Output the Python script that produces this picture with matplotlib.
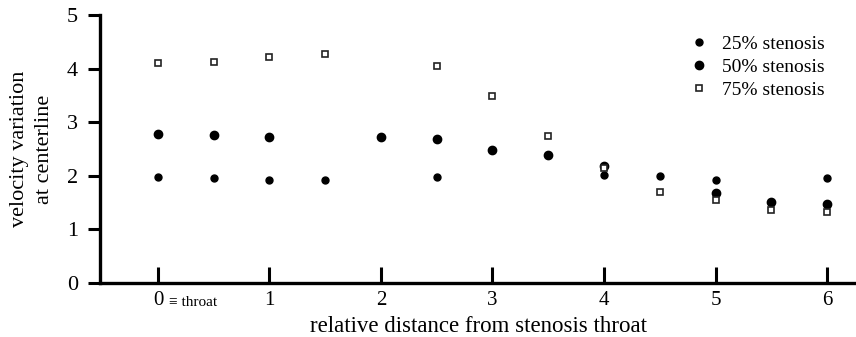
import matplotlib
matplotlib.use("Agg")
import matplotlib.pyplot as plt

# ---------------------------------------------------------------------------
# Data
# ---------------------------------------------------------------------------
x25 = [0, 0.5, 1, 1.5, 2.5, 4, 4.5, 5, 6]
y25 = [1.97, 1.96, 1.93, 1.92, 1.98, 2.01, 2.00, 1.93, 1.95]

x50 = [0, 0.5, 1, 2, 2.5, 3, 3.5, 4, 5, 5.5, 6]
y50 = [2.78, 2.76, 2.72, 2.73, 2.68, 2.48, 2.38, 2.18, 1.68, 1.52, 1.47]

x75 = [0, 0.5, 1, 1.5, 2.5, 3, 3.5, 4, 4.5, 5, 5.5, 6]
y75 = [4.10, 4.13, 4.21, 4.27, 4.05, 3.48, 2.75, 2.15, 1.70, 1.55, 1.36, 1.33]

xticks = [0, 1, 2, 3, 4, 5, 6]
xtick_labels = ["0", "1", "2", "3", "4", "5", "6"]
yticks = [0, 1, 2, 3, 4, 5]

plt.rcParams["font.family"] = ["Liberation Serif", "DejaVu Serif"]

fig = plt.figure(figsize=(8.56, 3.37), dpi=100)
ax = fig.add_axes([100 / 856, 54 / 337, 756 / 856, 268 / 337])

ax.plot(x25, y25, "o", color="black", markersize=5, label="25% stenosis")
ax.plot(x50, y50, "o", color="black", markersize=6, label="50% stenosis")
ax.plot(x75, y75, "s", color="#222222", markerfacecolor="white",
        markeredgewidth=1.2, markersize=4.5, label="75% stenosis")

ax.set_xlim(-0.52, 6.26)
ax.set_ylim(0, 5)
ax.set_xticks(xticks)
ax.set_xticklabels(xtick_labels, fontsize=15)
ax.set_yticks(yticks)
ax.tick_params(axis="y", labelsize=16, direction="out", length=9, width=2.2, pad=7)
ax.tick_params(axis="x", direction="in", length=11.5, width=2.2, pad=6)

for side in ("top", "right"):
    ax.spines[side].set_visible(False)
for side in ("left", "bottom"):
    ax.spines[side].set_linewidth(2.4)

# small "≡ throat" next to the 0 tick label
ax.annotate("\u2261 throat", xy=(0, 0), xycoords="data",
            xytext=(8, -16.5), textcoords="offset points",
            ha="left", va="baseline", fontsize=11)

ax.set_xlabel("relative distance from stenosis throat", fontsize=16.5, labelpad=4)
ax.set_ylabel("velocity variation\nat centerline", fontsize=16, labelpad=9,
              linespacing=1.45)

ax.legend(loc="upper left", bbox_to_anchor=(0.780, 0.925), frameon=False,
          fontsize=14, handletextpad=0.65, labelspacing=0.28,
          handlelength=1.0, borderaxespad=0, borderpad=0)

fig.savefig("out.png", dpi=100, facecolor="white")
